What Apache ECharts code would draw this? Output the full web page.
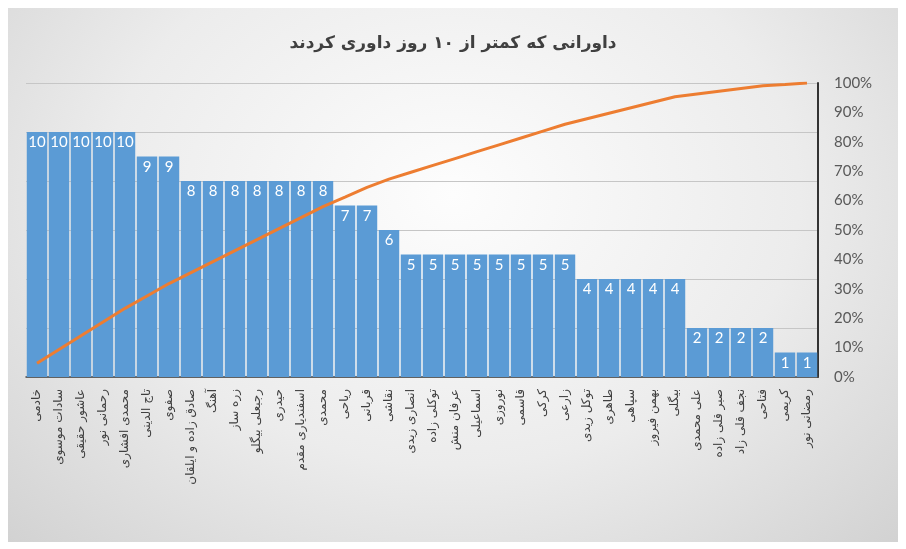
<!DOCTYPE html>
<html>
<head>
<meta charset="utf-8">
<script src="https://cdn.jsdelivr.net/npm/echarts@6/dist/echarts.min.js"></script>
<style>
html,body{margin:0;padding:0;background:#ffffff;}
#wrap{position:absolute;left:0;top:0;width:906px;height:549px;}
#frame{position:absolute;left:8px;top:8px;width:890px;height:534px;
background:radial-gradient(ellipse at 50% 35%, #fdfdfd 0%, #ececec 55%, #d2d2d2 100%);}
#chart{position:absolute;left:0;top:0;width:906px;height:549px;}
</style>
</head>
<body>
<div id="wrap"><div id="frame"></div><div id="chart"></div></div>
<script>
const titleText = 'داورانی که کمتر از ۱۰ روز داوری کردند';
const categories = [
  'خادمی','سادات موسوی','عاشور حقیقی','رحمانی نور','محمدی افشاری','تاج الدینی',
  'صفوی','صادق زاده و ایلقان','آهنگ','زره ساز','رجبعلی بیگلو','حیدری',
  'اسفندیاری مقدم','محمدی','ریاحی','قربانی','نقاشی','انصاری زیدی',
  'توکلی زاده','عرفان منش','اسماعیلی','نوروزی','قاسمی','کرکی',
  'زارعی','توکل زیدی','طاهری','سپاهی','بهمن فیروز','بیگلی',
  'علی محمدی','صبر قلی زاده','نجف قلی زاد','فتاحی','کریمی','رمضانی نور'
];
const counts = [10,10,10,10,10,9,9,8,8,8,8,8,8,8,7,7,6,5,5,5,5,5,5,5,5,4,4,4,4,4,2,2,2,2,1,1];
const cumulativePct = [4.67,9.35,14.02,18.69,23.36,27.57,31.78,35.51,39.25,42.99,46.73,50.47,54.21,57.94,61.21,64.49,67.29,69.63,71.96,74.30,76.64,78.97,81.31,83.64,85.98,87.85,89.72,91.59,93.46,95.33,96.26,97.20,98.13,99.07,99.53,100];

const chart = echarts.init(document.getElementById('chart'), null, {renderer:'canvas'});
chart.setOption({
  backgroundColor: 'transparent',
  animation: false,
  title: {
    text: titleText, left: 'center', top: 30,
    textStyle: {fontFamily: 'DejaVu Sans', fontSize: 17, fontWeight: 'bold', color: '#404040'}
  },
  grid: {left: 26, right: 88, top: 83, bottom: 172, containLabel: false},
  xAxis: {
    type: 'category', data: categories,
    axisLine: {lineStyle: {color: '#404040', width: 1.5}},
    axisTick: {show: false},
    axisLabel: {rotate: 90, interval: 0, fontFamily: 'DejaVu Sans', fontSize: 12, color: '#404040', margin: 12}
  },
  yAxis: [
    {type: 'value', min: 0, max: 12, interval: 2, position: 'left',
     axisLabel: {show: false}, axisLine: {show: false}, axisTick: {show: false},
     splitLine: {lineStyle: {color: '#c6c6c6', width: 1}}},
    {type: 'value', min: 0, max: 100, interval: 10, position: 'right',
     axisLine: {show: true, lineStyle: {color: '#333333', width: 2}},
     axisTick: {show: false}, splitLine: {show: false},
     axisLabel: {formatter: '{value}%', fontFamily: 'Lato', fontSize: 15, color: '#595959', margin: 16}}
  ],
  series: [
    {type: 'bar', data: counts, yAxisIndex: 0, barCategoryGap: '7%',
     itemStyle: {color: '#5b9bd5'},
     label: {show: true, position: 'insideTop', distance: 3, color: '#ffffff', fontFamily: 'Lato', fontSize: 15}},
    {type: 'line', data: cumulativePct, yAxisIndex: 1, showSymbol: false, smooth: false,
     lineStyle: {color: '#ed7d31', width: 3}, itemStyle: {color: '#ed7d31'}}
  ]
});
</script>
</body>
</html>
